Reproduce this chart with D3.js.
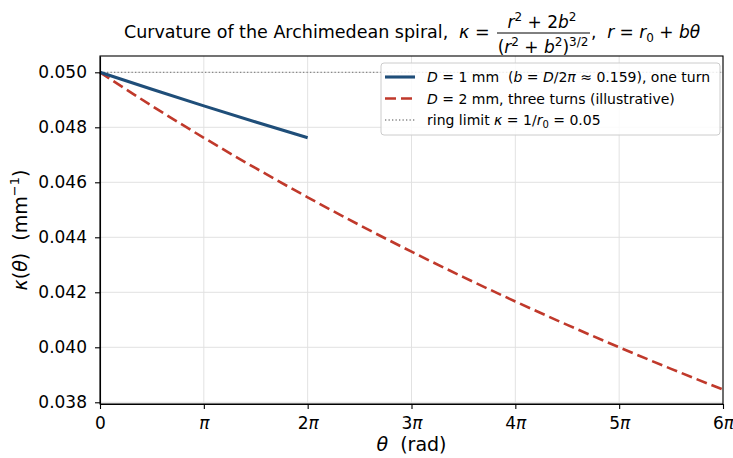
<!DOCTYPE html>
<html>
<head>
<meta charset="utf-8">
<script src="https://cdn.jsdelivr.net/npm/d3@7"></script>
<style>
  body { margin: 0; background: #fff; }
  text { font-family: "DejaVu Sans", sans-serif; fill: #000; }
  .grid line { stroke: #e2e2e2; stroke-width: 1; }
  .axis path, .axis line { stroke: #000; stroke-width: 1.1; }
</style>
</head>
<body>
<svg id="chart" width="733" height="458"></svg>
<script>
// theta sampled at k*pi/2 (values in units of pi)
const thetaOneTurn = [0, 0.5, 1, 1.5, 2];
const kappaOneTurn = [0.050000, 0.049383, 0.048780, 0.048193, 0.047619];

const thetaThreeTurns = [0, 0.5, 1, 1.5, 2, 2.5, 3, 3.5, 4, 4.5, 5, 5.5, 6];
const kappaThreeTurns = [0.050000, 0.048780, 0.047619, 0.046512, 0.045455, 0.044444,
  0.043478, 0.042553, 0.041667, 0.040816, 0.040000, 0.039216, 0.038462];

const ringLimit = 0.05;

const xTicks = [0, 1, 2, 3, 4, 5, 6];
const xTickLabels = ["0", "π", "2π", "3π", "4π", "5π", "6π"];
const yTicks = [0.038, 0.040, 0.042, 0.044, 0.046, 0.048, 0.050];

const margin = { top: 56, right: 10, bottom: 54, left: 100 };
const width = 733 - margin.left - margin.right;
const height = 458 - margin.top - margin.bottom;

const svg = d3.select("#chart");
const chart = svg.append("g").attr("transform", `translate(${margin.left},${margin.top})`);

const xScale = d3.scaleLinear().domain([0, 6]).range([0, width]);
const yScale = d3.scaleLinear().domain([0.037938, 0.050593]).range([height, 0]);

// grid
chart.append("g").attr("class", "grid")
  .selectAll("line").data(xTicks).join("line")
  .attr("x1", d => xScale(d)).attr("x2", d => xScale(d))
  .attr("y1", 0).attr("y2", height);
chart.append("g").attr("class", "grid")
  .selectAll("line").data(yTicks).join("line")
  .attr("x1", 0).attr("x2", width)
  .attr("y1", d => yScale(d)).attr("y2", d => yScale(d));

// ring limit
chart.append("line")
  .attr("x1", 0).attr("x2", width)
  .attr("y1", yScale(ringLimit)).attr("y2", yScale(ringLimit))
  .attr("stroke", "#888").attr("stroke-width", 1.3).attr("stroke-dasharray", "1.3,2.2");

const line = d3.line().x(d => xScale(d[0])).y(d => yScale(d[1])).curve(d3.curveMonotoneX);

chart.append("path")
  .datum(d3.zip(thetaThreeTurns, kappaThreeTurns))
  .attr("d", line).attr("fill", "none")
  .attr("stroke", "#c0392b").attr("stroke-width", 2.6).attr("stroke-dasharray", "11,5");

chart.append("path")
  .datum(d3.zip(thetaOneTurn, kappaOneTurn))
  .attr("d", line).attr("fill", "none")
  .attr("stroke", "#1f4e79").attr("stroke-width", 3.1);

// axes
const xAxis = d3.axisBottom(xScale).tickValues(xTicks)
  .tickFormat((d, i) => xTickLabels[i]).tickSize(5).tickSizeOuter(0).tickPadding(8);
const yAxis = d3.axisLeft(yScale).tickValues(yTicks)
  .tickFormat(d3.format(".3f")).tickSize(5).tickSizeOuter(0).tickPadding(8);

const xAxisG = chart.append("g").attr("class", "axis")
  .attr("transform", `translate(0,${height})`).call(xAxis);
xAxisG.selectAll("text").style("font-size", "17px")
  .html((d, i) => i === 0 ? "0" : (i === 1 ? "" : i) + '<tspan font-style="italic">π</tspan>');
const yAxisG = chart.append("g").attr("class", "axis").call(yAxis);
yAxisG.selectAll("text").style("font-size", "17px");

// frame
chart.append("rect").attr("width", width).attr("height", height)
  .attr("fill", "none").attr("stroke", "#000").attr("stroke-width", 1.1);

// axis labels
svg.append("text").attr("x", margin.left + width / 2).attr("y", 451)
  .attr("text-anchor", "middle").style("font-size", "19px").attr("xml:space", "preserve")
  .html('<tspan font-style="italic">θ</tspan>  (rad)');

svg.append("text").attr("transform", `translate(27,230) rotate(-90)`)
  .attr("text-anchor", "middle").style("font-size", "19px").attr("xml:space", "preserve")
  .html('<tspan font-style="italic">κ</tspan>(<tspan font-style="italic">θ</tspan>)  (mm<tspan dy="-8" font-size="13px">−1</tspan><tspan dy="8">)</tspan>');

// title with fraction
const title = svg.append("g").style("font-size", "17px");
title.append("text").attr("x", 124).attr("y", 38).style("font-size", "17.5px")
  .text("Curvature of the Archimedean spiral,");
title.append("text").attr("x", 459).attr("y", 38).attr("xml:space", "preserve").style("font-size", "17.5px")
  .html('<tspan font-style="italic">κ</tspan> =');
title.append("text").attr("x", 542).attr("y", 28).attr("text-anchor", "middle")
  .attr("xml:space", "preserve")
  .html('<tspan font-style="italic">r</tspan><tspan dy="-7" font-size="12px">2</tspan><tspan dy="7"> + 2</tspan><tspan font-style="italic">b</tspan><tspan dy="-7" font-size="12px">2</tspan>');
title.append("line").attr("x1", 497).attr("x2", 590).attr("y1", 33).attr("y2", 33)
  .attr("stroke", "#000").attr("stroke-width", 1);
title.append("text").attr("x", 543).attr("y", 53).attr("text-anchor", "middle")
  .attr("xml:space", "preserve")
  .html('(<tspan font-style="italic">r</tspan><tspan dy="-7" font-size="12px">2</tspan><tspan dy="7"> + </tspan><tspan font-style="italic">b</tspan><tspan dy="-7" font-size="12px">2</tspan><tspan dy="7">)</tspan><tspan dy="-7" font-size="12px">3/2</tspan>');
title.append("text").attr("x", 591).attr("y", 38).attr("xml:space", "preserve")
  .html(',  <tspan font-style="italic">r</tspan> = <tspan font-style="italic">r</tspan><tspan dy="4" font-size="12px">0</tspan><tspan dy="-4"> + </tspan><tspan font-style="italic">bθ</tspan>');

// legend
const legend = svg.append("g").attr("transform", "translate(381,63)");
legend.append("rect").attr("width", 339).attr("height", 72).attr("rx", 3)
  .attr("fill", "#fff").attr("fill-opacity", 0.85).attr("stroke", "#ccc").attr("stroke-width", 1);
const legItems = [
  { stroke: "#1f4e79", w: 3.1, dash: null,
    html: '<tspan font-style="italic">D</tspan> = 1 mm  (<tspan font-style="italic">b</tspan> = <tspan font-style="italic">D</tspan>/2<tspan font-style="italic">π</tspan> ≈ 0.159), one turn' },
  { stroke: "#c0392b", w: 2.6, dash: "11,5",
    html: '<tspan font-style="italic">D</tspan> = 2 mm, three turns (illustrative)' },
  { stroke: "#888", w: 1.3, dash: "1.3,2.2",
    html: 'ring limit <tspan font-style="italic">κ</tspan> = 1/<tspan font-style="italic">r</tspan><tspan dy="3" font-size="10px">0</tspan><tspan dy="-3"> = 0.05</tspan>' }
];
legItems.forEach((it, i) => {
  const y = 14 + i * 21.5;
  legend.append("line").attr("x1", 4).attr("x2", 34).attr("y1", y).attr("y2", y)
    .attr("stroke", it.stroke).attr("stroke-width", it.w).attr("stroke-dasharray", it.dash);
  legend.append("text").attr("x", 46).attr("y", y + 5).style("font-size", "14px")
    .attr("xml:space", "preserve").html(it.html);
});
</script>
</body>
</html>
